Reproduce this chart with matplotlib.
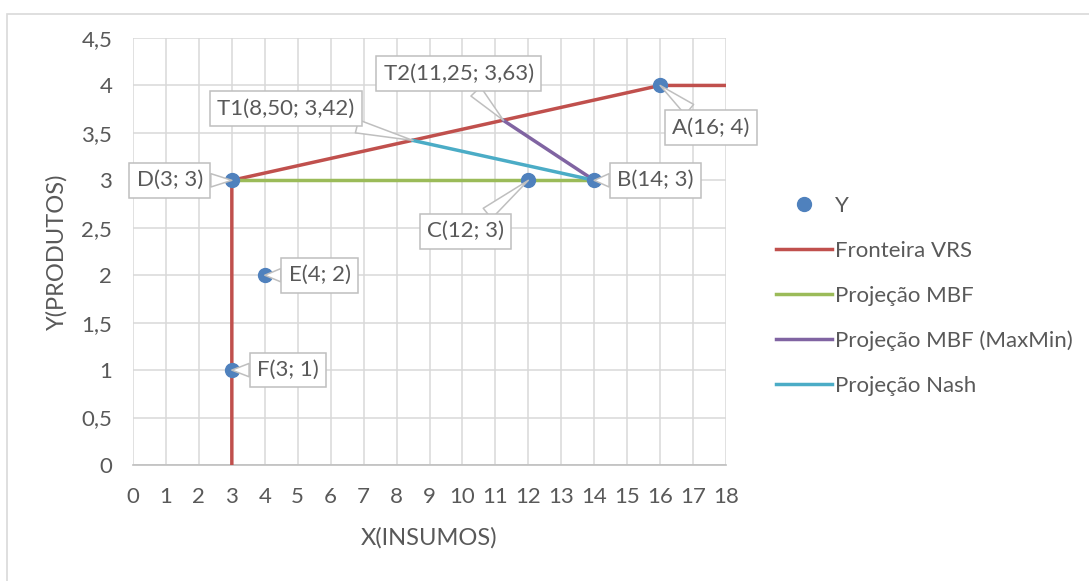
import matplotlib.pyplot as plt
from matplotlib.patches import Rectangle

plt.rcParams['font.family'] = ['Lato', 'DejaVu Sans']

# DMU observations
dmu_names = ['A', 'B', 'C', 'D', 'E', 'F']
dmu_x = [16, 14, 12, 3, 4, 3]
dmu_y = [4, 3, 3, 3, 2, 1]

# VRS frontier
frontier_x = [3, 3, 16, 18]
frontier_y = [0, 3, 4, 4]

# projections of B
mbf_x = [3, 14]
mbf_y = [3, 3]
maxmin_x = [11.25, 14]
maxmin_y = [3.63, 3]
nash_x = [8.50, 14]
nash_y = [3.42, 3]

# target points
target_names = ['T1', 'T2']
target_x = [8.50, 11.25]
target_y = [3.42, 3.63]

x_ticks = list(range(0, 19))
y_ticks = [0, 0.5, 1, 1.5, 2, 2.5, 3, 3.5, 4, 4.5]

RED = '#C0504D'
GREEN = '#9BBB59'
PURPLE = '#8064A2'
CYAN = '#4BACC6'
BLUE = '#4F81BD'
TXT = '#595959'
GRID = '#D9D9D9'
FS = 16


def fmt(v, dec=0):
    return f'{v:.{dec}f}'.replace('.', ',')


fig = plt.figure(figsize=(10.89, 5.81), dpi=100)
fig.patches.append(Rectangle((7 / 1089, -0.05), 1.05, 1 - 14 / 581 + 0.05,
                             transform=fig.transFigure, fill=False,
                             ec='#D9D9D9', lw=1.2))
ax = fig.add_axes([133 / 1089, 1 - 465 / 581, 593 / 1089, 427 / 581])

ax.plot(frontier_x, frontier_y, color=RED, lw=2.5, label='Fronteira VRS', zorder=3)
ax.plot(mbf_x, mbf_y, color=GREEN, lw=2.5, label='Projeção MBF', zorder=3)
ax.plot(maxmin_x, maxmin_y, color=PURPLE, lw=2.5, label='Projeção MBF (MaxMin)', zorder=3)
ax.plot(nash_x, nash_y, color=CYAN, lw=2.5, label='Projeção Nash', zorder=3)
ax.plot(dmu_x, dmu_y, 'o', color=BLUE, ms=10, label='Y', zorder=4)

ax.set_xlim(0, 18)
ax.set_ylim(0, 4.5)
ax.set_xticks(x_ticks)
ax.set_yticks(y_ticks)
ax.set_xticklabels([str(v) for v in x_ticks])
ax.set_yticklabels([fmt(v, 0) if v == int(v) else fmt(v, 1) for v in y_ticks])
ax.tick_params(length=0, labelsize=FS, colors=TXT)
ax.tick_params(axis='x', pad=16)
ax.tick_params(axis='y', pad=15)
ax.grid(True, color=GRID, lw=1.1)
ax.set_axisbelow(True)
for side in ['top', 'right', 'left']:
    ax.spines[side].set_visible(False)
ax.spines['bottom'].set_color('#BFBFBF')
ax.spines['bottom'].set_linewidth(1.2)

ax.set_xlabel('X(INSUMOS)', fontsize=17, color=TXT, labelpad=14)
ax.set_ylabel('Y(PRODUTOS)', fontsize=17, color=TXT, labelpad=10)

box = dict(boxstyle='square,pad=0.33', fc='white', ec='#BFBFBF', lw=1.1)
wedge = dict(arrowstyle='wedge,tail_width=0.6,shrink_factor=0.5', fc='white',
             ec='#BFBFBF', lw=1.1, shrinkA=0, shrinkB=0)

# label offsets in pixels (text centre relative to the point)
dmu_offsets = {'A': (51, -42), 'B': (61, 0), 'C': (-63, -51),
               'D': (-62, 0), 'E': (55, 0), 'F': (56, 0)}
for n, x, y in zip(dmu_names, dmu_x, dmu_y):
    ax.annotate(f'{n}({fmt(x)}; {fmt(y)})', xy=(x, y), xytext=dmu_offsets[n],
                textcoords='offset pixels', ha='center', va='center',
                fontsize=FS, color=TXT, bbox=box, arrowprops=wedge, zorder=6)

target_offsets = {'T1': (-127, 32), 'T2': (-45, 47)}
for n, x, y in zip(target_names, target_x, target_y):
    ax.annotate(f'{n}({fmt(x, 2)}; {fmt(y, 2)})', xy=(x, y), xytext=target_offsets[n],
                textcoords='offset pixels', ha='center', va='center',
                fontsize=FS, color=TXT, bbox=box, arrowprops=wedge, zorder=6)

handles, labels = ax.get_legend_handles_labels()
order = [4, 0, 1, 2, 3]
fig.legend([handles[i] for i in order], [labels[i] for i in order],
           loc='center left', bbox_to_anchor=(756 / 1089, 1 - 296 / 581),
           frameon=False, fontsize=FS, labelcolor=TXT, handlelength=2.5,
           handletextpad=0.15, labelspacing=1.12)

fig.savefig('out.png', dpi=100)
